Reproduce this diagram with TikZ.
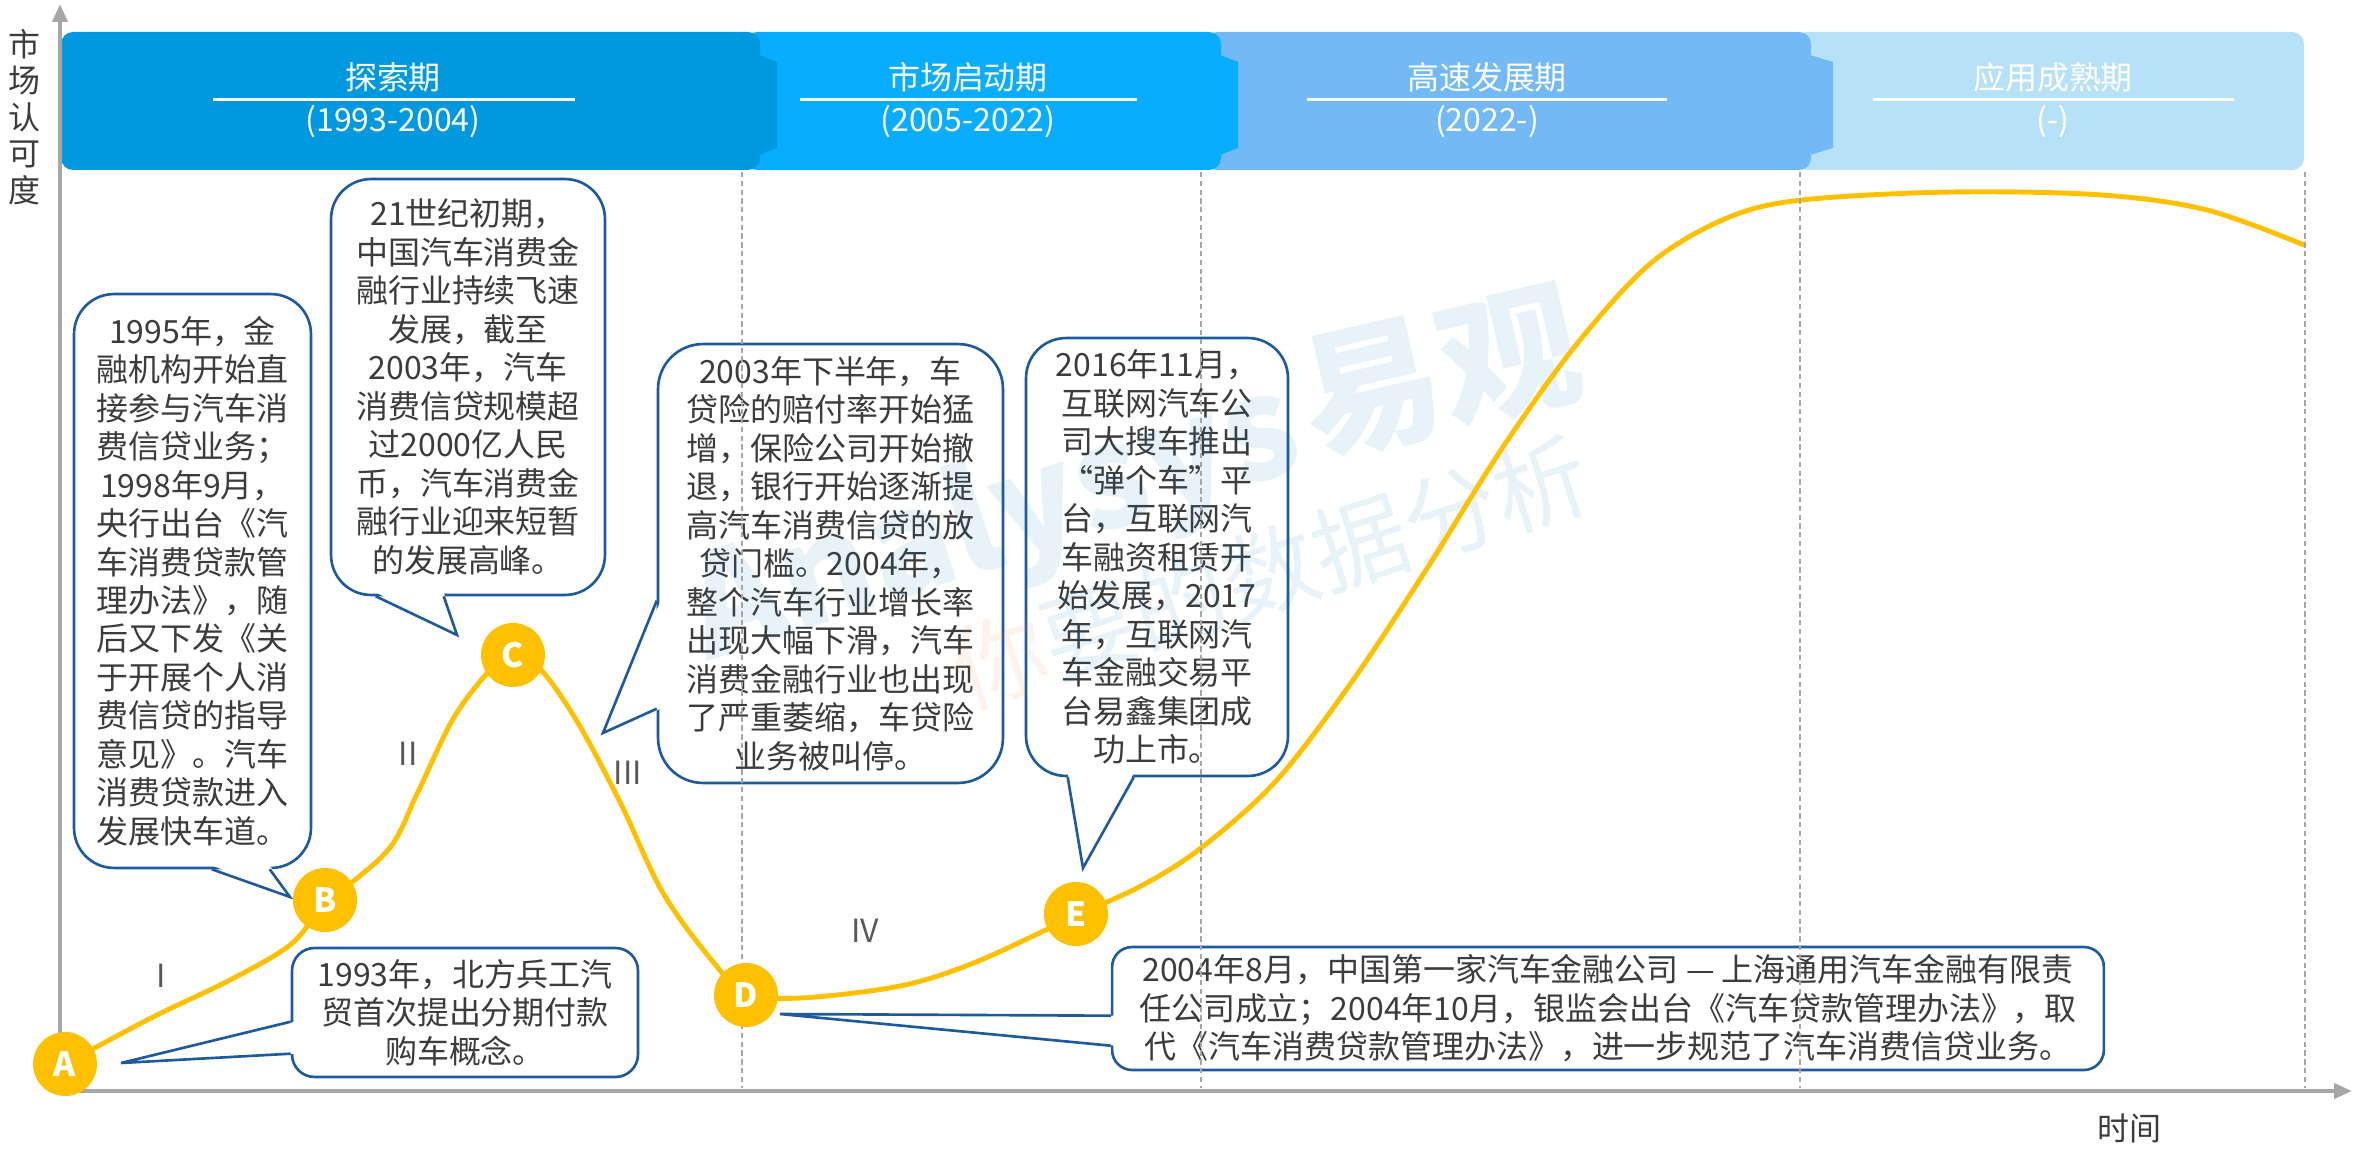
\documentclass[tikz,border=0pt]{standalone}
\usepackage{fontspec}
\setmainfont{Noto Sans CJK SC}
\usetikzlibrary{arrows.meta, calc}

\definecolor{barA}{RGB}{0,153,224}
\definecolor{barB}{RGB}{8,173,255}
\definecolor{barC}{RGB}{115,185,245}
\definecolor{barD}{RGB}{183,225,247}
\definecolor{noteblue}{RGB}{30,90,158}
\definecolor{curvegold}{RGB}{255,192,0}
\definecolor{axisgray}{RGB}{166,166,166}
\definecolor{textgray}{RGB}{60,60,60}
\definecolor{stagegray}{RGB}{89,89,89}
\definecolor{wmblue}{RGB}{0,112,192}
\definecolor{wmorange}{RGB}{237,125,49}

\newcommand{\notefont}{\fontsize{18.2}{21.9}\selectfont}
\newcommand{\barfont}{\fontsize{18.2}{20.8}\selectfont}

\begin{document}
\begin{tikzpicture}[x=0.02cm, y=-0.02cm,
    notebox/.style={draw=noteblue, fill=white, line width=1.5pt, rounded corners=0.8cm,
                    inner sep=0pt, align=center, font=\notefont, text=textgray},
    tail/.style={draw=noteblue, line width=1.5pt},
    dot/.style={circle, fill=curvegold, minimum size=1.28cm, inner sep=0pt,
                text=white, font=\bfseries\fontsize{19}{19}\selectfont},
    phase/.style={font=\barfont, text=white},
    stage/.style={font=\barfont, text=stagegray},
    axisline/.style={draw=axisgray, line width=2.3pt,
                     {Triangle[length=0.36cm, width=0.3cm]}-{Triangle[length=0.36cm, width=0.3cm]}},
    sepline/.style={draw=axisgray, line width=0.6pt, dash pattern=on 3pt off 2pt},
    wm/.style={text=wmblue, text opacity=0.09}
]
    \useasboundingbox (0,0) rectangle (2354,1149);

    % Phase bars, right to left so each tab lies over the next bar
    \fill[barD, rounded corners=0.24cm] (1795,32) rectangle (2304,170);
    \fill[barC, rounded corners=0.24cm] (1205,32) rectangle (1811,170);
    \fill[barC] (1810,55) -- (1833,62) -- (1833,148) -- (1810,155) -- cycle;
    \fill[barB, rounded corners=0.24cm] (745,32) rectangle (1221,170);
    \fill[barB] (1220,55) -- (1238,62) -- (1238,148) -- (1220,155) -- cycle;
    \fill[barA, rounded corners=0.24cm] (61,32) rectangle (760,170);
    \fill[barA] (759,55) -- (777,62) -- (777,148) -- (759,155) -- cycle;

    % Phase titles
    \node[phase] (p1name) at (393,77) {探索期};
    \node[phase] (p1year) at (393,122) {(1993-2004)};
    \node[phase] (p2name) at (968,77) {市场启动期};
    \node[phase] (p2year) at (968,122) {(2005-2022)};
    \node[phase] (p3name) at (1487,77) {高速发展期};
    \node[phase] (p3year) at (1487,122) {(2022-)};
    \node[phase] (p4name) at (2053,77) {应用成熟期};
    \node[phase] (p4year) at (2053,122) {(-)};
    \draw[white, line width=0.06cm] (213,100) -- (575,100);
    \draw[white, line width=0.06cm] (800,100) -- (1137,100);
    \draw[white, line width=0.06cm] (1307,100) -- (1667,100);
    \draw[white, line width=0.06cm] (1873,100) -- (2234,100);

    % Axes
    \coordinate (origin) at (60,1091);
    \coordinate (ytip) at (60,4);
    \coordinate (xtip) at (2352,1091);
    \draw[axisline] (ytip) -- (origin) -- (xtip);
    \node[font=\barfont, text=textgray, align=center] (ylab) at (24,117) {市\\场\\认\\可\\度};
    \node[font=\barfont, text=textgray] (xlab) at (2129,1128) {时间};

    % Callouts
    \node[notebox, minimum width=6.92cm, minimum height=2.58cm, rounded corners=0.45cm] (noteA) at (465,1012.5)
        {1993年，北方兵工汽\\贸首次提出分期付款\\购车概念。};
    \node[notebox, minimum width=4.74cm, minimum height=11.48cm] (noteB) at (192.5,581)
        {1995年，金\\融机构开始直\\接参与汽车消\\费信贷业务；\\1998年9月，\\央行出台《汽\\车消费贷款管\\理办法》，随\\后又下发《关\\于开展个人消\\费信贷的指导\\意见》。汽车\\消费贷款进入\\发展快车道。};
    \node[notebox, minimum width=5.48cm, minimum height=8.32cm] (noteC) at (468,387)
        {21世纪初期，\\中国汽车消费金\\融行业持续飞速\\发展，截至\\2003年，汽车\\消费信贷规模超\\过2000亿人民\\币，汽车消费金\\融行业迎来短暂\\的发展高峰。};
    \node[notebox, minimum width=6.9cm, minimum height=8.78cm, rounded corners=0.9cm] (noteD) at (830.5,563.5)
        {2003年下半年，车\\贷险的赔付率开始猛\\增，保险公司开始撤\\退，银行开始逐渐提\\高汽车消费信贷的放\\贷门槛。2004年，\\整个汽车行业增长率\\出现大幅下滑，汽车\\消费金融行业也出现\\了严重萎缩，车贷险\\业务被叫停。};
    \node[notebox, minimum width=5.24cm, minimum height=8.76cm] (noteE) at (1157,557)
        {2016年11月，\\互联网汽车公\\司大搜车推出\\“弹个车”平\\台，互联网汽\\车融资租赁开\\始发展，2017\\年，互联网汽\\车金融交易平\\台易鑫集团成\\功上市。};
    \node[notebox, minimum width=19.84cm, minimum height=2.46cm, rounded corners=0.4cm] (noteF) at (1608,1008.5)
        {2004年8月，中国第一家汽车金融公司 — 上海通用汽车金融有限责\\任公司成立；2004年10月，银监会出台《汽车贷款管理办法》，取\\代《汽车消费贷款管理办法》，进一步规范了汽车消费信贷业务。};

    % Callout tails
    \coordinate (tipA) at (121,1063);
    \coordinate (tipB) at (290,897);
    \coordinate (tipC) at (457,635);
    \coordinate (tipD) at (603,733);
    \coordinate (tipE) at (1083,868);
    \coordinate (tipF) at (780,1014);
    \fill[white] ($(noteA.north west)+(4,75)$) -- (tipA) -- ($(noteA.north west)+(4,107)$) -- cycle;
    \draw[tail] ($(noteA.north west)+(0,75)$) -- (tipA) -- ($(noteA.north west)+(0,107)$);
    \fill[white] ($(noteB.south west)+(139,-4)$) -- (tipB) -- ($(noteB.south west)+(197,-4)$) -- cycle;
    \draw[tail] ($(noteB.south west)+(139,0)$) -- (tipB) -- ($(noteB.south west)+(197,0)$);
    \fill[white] ($(noteC.south west)+(46,-4)$) -- (tipC) -- ($(noteC.south west)+(114,-4)$) -- cycle;
    \draw[tail] ($(noteC.south west)+(46,0)$) -- (tipC) -- ($(noteC.south west)+(114,0)$);
    \fill[white] ($(noteD.north west)+(4,258)$) -- (tipD) -- ($(noteD.north west)+(4,366)$) -- cycle;
    \draw[tail] ($(noteD.north west)+(0,258)$) -- (tipD) -- ($(noteD.north west)+(0,366)$);
    \fill[white] ($(noteE.south west)+(43,-4)$) -- (tipE) -- ($(noteE.south west)+(109,-4)$) -- cycle;
    \draw[tail] ($(noteE.south west)+(43,0)$) -- (tipE) -- ($(noteE.south west)+(109,0)$);
    \fill[white] ($(noteF.north west)+(4,70)$) -- (tipF) -- ($(noteF.north west)+(4,100)$) -- cycle;
    \draw[tail] ($(noteF.north west)+(0,70)$) -- (tipF) -- ($(noteF.north west)+(0,100)$);

    % Watermark
    \node[wm, rotate=18, font=\bfseries\fontsize{80}{80}\selectfont] (wmEn) at (995,525) {Analysys};
    \node[wm, rotate=13, font=\bfseries\fontsize{80}{80}\selectfont] (wmCn) at (1440,373) {易观};
    \node[wm, rotate=18, font=\fontsize{54}{54}\selectfont] (wmSub) at (1270,572)
        {\textcolor{wmorange}{你}要的数据分析};

    % Market curve
    \draw[curvegold, line width=2.8pt, line cap=round] plot[smooth, tension=0.55] coordinates {
        (65,1064) (153,1017) (230,980) (290,945) (325,905) (388,850) (417,794)
        (453,719) (489,671) (513,652) (542,671) (578,723) (620,802) (663,893)
        (714,963) (746,993) (800,998) (900,986) (976,962) (1075,916) (1141,886)
        (1201,848) (1276,781) (1351,683) (1426,570) (1501,450) (1576,345)
        (1651,263) (1727,218) (1802,200) (1952,192) (2102,195) (2207,210) (2304,245)};

    % Phase separators
    \draw[sepline] (742,172) -- (742,1088);
    \draw[sepline] (1201,172) -- (1201,1088);
    \draw[sepline] (1800,172) -- (1800,1088);
    \draw[sepline] (2305,172) -- (2305,1088);

    % Points on the curve
    \node[dot] (ptA) at (65,1064) {A};
    \node[dot] (ptB) at (325,900) {B};
    \node[dot] (ptC) at (513,655) {C};
    \node[dot] (ptD) at (746,995) {D};
    \node[dot] (ptE) at (1076,914) {E};

    % Stage numerals
    \node[stage] (stI) at (161,976) {I};
    \node[stage] (stII) at (408,754) {II};
    \node[stage] (stIII) at (628,773) {III};
    \node[stage] (stIV) at (865,931) {IV};

\end{tikzpicture}
\end{document}
